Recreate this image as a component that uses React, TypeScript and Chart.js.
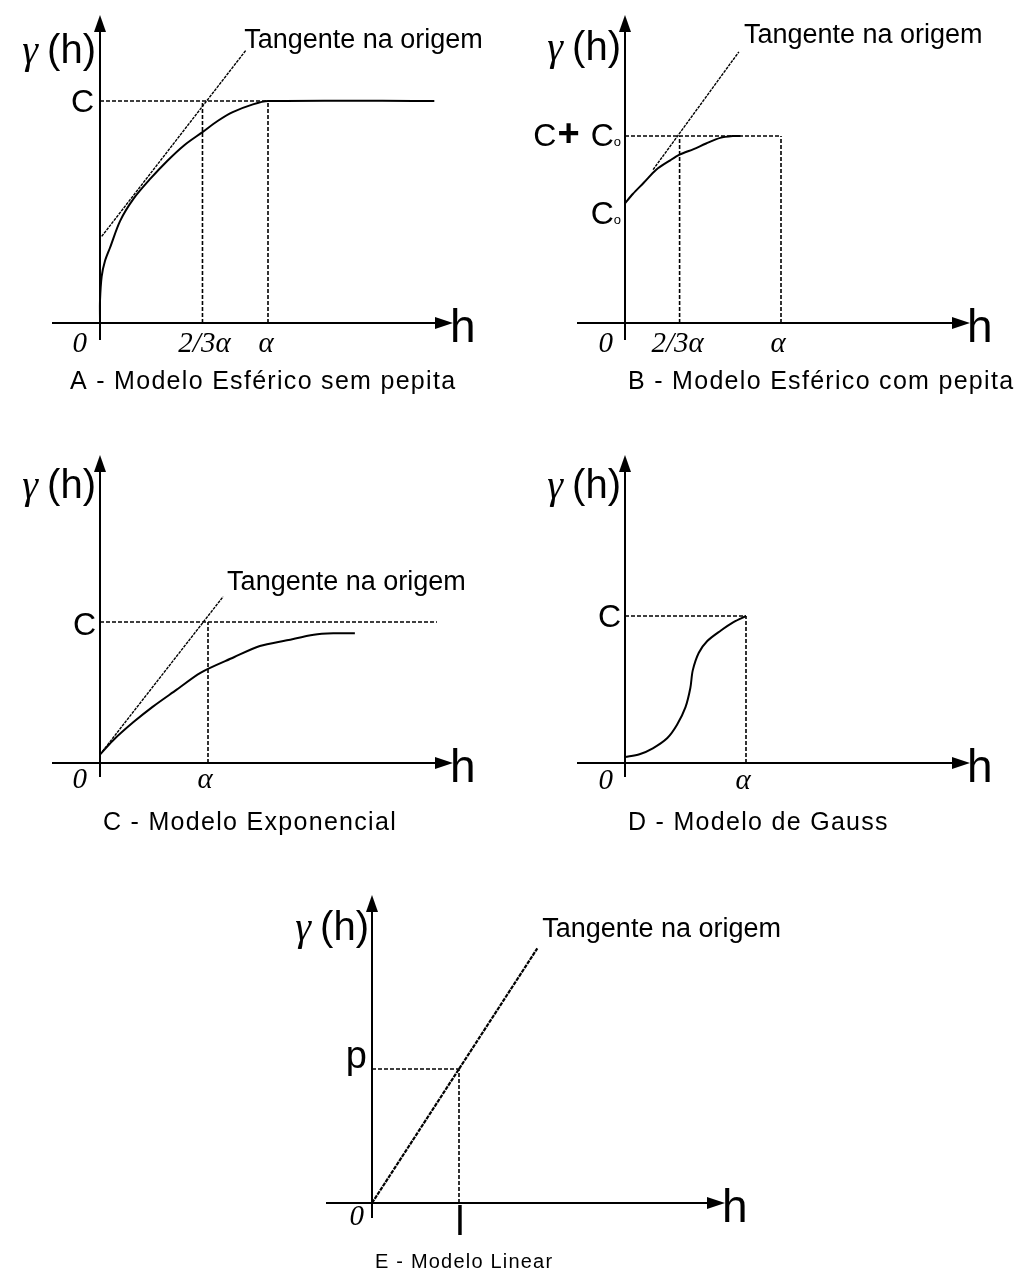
import { useEffect, useRef } from 'react';
import { Chart, registerables } from 'chart.js';

Chart.register(...registerables);

const SANS = '"Liberation Sans", Arial, sans-serif';
const SERIF = '"Liberation Serif", "Times New Roman", serif';
const INK = '#000';

// h is measured in units of the range (α or l), γ(h) in units of the sill (C, C + C0 or p)

// A – spherical model without nugget
const sphericalH = [0, 0, 0.01, 0.03, 0.06, 0.12, 0.2, 0.3, 0.4, 0.5, 0.61, 0.7, 0.79, 0.91, 1, 1.99];
const sphericalGamma = [0.01, 0.1, 0.21, 0.28, 0.34, 0.46, 0.56, 0.65, 0.73, 0.8, 0.86, 0.91, 0.95, 0.985, 1, 1];
const sphericalTangentH = [0.01, 0.87];
const sphericalTangentGamma = [0.39, 1.23];
const sphericalTicks = [0.61, 1];
const sphericalTickLabels = ['2/3α', 'α'];

// B – spherical model with nugget
const nuggetH = [0, 0.05, 0.12, 0.2, 0.29, 0.35, 0.44, 0.52, 0.61, 0.69, 0.74];
const nuggetGamma = [0.64, 0.69, 0.75, 0.82, 0.87, 0.9, 0.93, 0.96, 0.99, 1, 1];
const nuggetTangentH = [0.18, 0.73];
const nuggetTangentGamma = [0.82, 1.45];
const nuggetC0 = 0.64;
const nuggetTicks = [0.35, 1];
const nuggetTickLabels = ['2/3α', 'α'];

// C – exponential model
const expH = [0, 0.12, 0.31, 0.49, 0.71, 0.93, 1.24, 1.48, 1.73, 1.98, 2.16, 2.36];
const expGamma = [0.06, 0.16, 0.29, 0.4, 0.52, 0.64, 0.75, 0.83, 0.87, 0.91, 0.92, 0.92];
const expTangentH = [0, 1.14];
const expTangentGamma = [0.06, 1.18];
const expSillEnd = 3.12;
const expTicks = [1];
const expTickLabels = ['α'];

// D – Gaussian model
const gaussH = [0, 0.12, 0.23, 0.35, 0.43, 0.5, 0.54, 0.56, 0.61, 0.68, 0.79, 0.9, 1];
const gaussGamma = [0.04, 0.06, 0.1, 0.17, 0.26, 0.38, 0.51, 0.63, 0.75, 0.83, 0.9, 0.96, 1];
const gaussTicks = [1];
const gaussTickLabels = ['α'];

// E – linear model
const linearH = [0, 1.9];
const linearGamma = [0, 1.9];
const linearTicks = [1];
const linearTickLabels = ['l'];

const SILL = 1;

type Pt = { x: number; y: number };
const series = (h: number[], g: number[]): Pt[] => h.map((x, i) => ({ x, y: g[i] }));

const base = { showLine: true, borderColor: INK, pointRadius: 0, fill: false };
const curve = (h: number[], g: number[]) => ({ ...base, data: series(h, g), borderWidth: 2, tension: 0.3 });
const tangent = (h: number[], g: number[], width = 1.4, dash = [3, 1]) => ({
  ...base, data: series(h, g), borderWidth: width, borderDash: dash, tension: 0,
});
const guide = (h: number[], g: number[]) => ({
  ...base, data: series(h, g), borderWidth: 1.6, borderDash: [4, 2], tension: 0,
});
// dashed sill line plus a dashed drop line for every marked lag
const guides = (ticks: number[], sillEnd: number) => [
  guide([0, sillEnd], [SILL, SILL]),
  ...ticks.map((t) => guide([t, t], [0, SILL])),
];

type Run = { text: string; font: string; pad?: number };
type Mark = { value: number; runs: Run[]; dx: number; dy: number; align: 'left' | 'right' | 'center' };

interface PanelSpec {
  box: { left: number; top: number; width: number; height: number };
  origin: { x: number; y: number };
  unit: { x: number; y: number };
  axis: { back: number; fwd: number; up: number; down: number };
  datasets: () => any[];
  yMarks: Mark[];
  xMarks: Mark[];
  tangentNote?: { h: number; g: number; dx: number; dy: number };
  caption: { text: string; dx: number; dy: number; font: string; spacing: number };
  title: { dx: number; dy: number };
}

const cFont = `32px ${SANS}`;
const subFont = `13px ${SANS}`;
const tickFont = `italic 29px ${SERIF}`;
const noteFont = `27px ${SANS}`;
const captionFont = `25px ${SANS}`;

const zeroMark = (dx: number, dy: number): Mark => ({
  value: 0, runs: [{ text: '0', font: tickFont }], dx, dy, align: 'right',
});
const tickMarks = (ticks: number[], labels: string[], dxs: number[], dy: number, font = tickFont): Mark[] =>
  ticks.map((t, i) => ({ value: t, runs: [{ text: labels[i], font }], dx: dxs[i], dy, align: 'center' }));

const panels: PanelSpec[] = [
  {
    box: { left: 0, top: 0, width: 509, height: 400 },
    origin: { x: 100, y: 323 },
    unit: { x: 168, y: 222 },
    axis: { back: 48, fwd: 353, up: 308, down: 17 },
    datasets: () => [
      curve(sphericalH, sphericalGamma),
      tangent(sphericalTangentH, sphericalTangentGamma),
      ...guides(sphericalTicks, 1),
    ],
    yMarks: [{ value: SILL, runs: [{ text: 'C', font: cFont }], dx: -6, dy: 11, align: 'right' }],
    xMarks: [zeroMark(-13, 29), ...tickMarks(sphericalTicks, sphericalTickLabels, [2, -2], 29)],
    tangentNote: { h: sphericalTangentH[1], g: sphericalTangentGamma[1], dx: -2, dy: -2 },
    caption: { text: 'A - Modelo Esférico sem pepita', dx: -30, dy: 66, font: captionFont, spacing: 1.3 },
    title: { dx: -4, dy: -260 },
  },
  {
    box: { left: 509, top: 0, width: 509, height: 400 },
    origin: { x: 625, y: 323 },
    unit: { x: 156, y: 187 },
    axis: { back: 48, fwd: 345, up: 308, down: 17 },
    datasets: () => [
      curve(nuggetH, nuggetGamma),
      tangent(nuggetTangentH, nuggetTangentGamma),
      ...guides(nuggetTicks, 1),
    ],
    yMarks: [
      {
        value: SILL,
        runs: [
          { text: 'C', font: cFont, pad: 1 },
          { text: '+', font: `bold 38px ${SANS}`, pad: 11 },
          { text: 'C', font: cFont },
          { text: 'o', font: subFont },
        ],
        dx: -4, dy: 10, align: 'right',
      },
      {
        value: nuggetC0,
        runs: [{ text: 'C', font: cFont }, { text: 'o', font: subFont }],
        dx: -4, dy: 21, align: 'right',
      },
    ],
    xMarks: [zeroMark(-12, 29), ...tickMarks(nuggetTicks, nuggetTickLabels, [-2, -3], 29)],
    tangentNote: { h: nuggetTangentH[1], g: nuggetTangentGamma[1], dx: 5, dy: -9 },
    caption: { text: 'B - Modelo Esférico com pepita', dx: 3, dy: 66, font: captionFont, spacing: 1.3 },
    title: { dx: -4, dy: -263 },
  },
  {
    box: { left: 0, top: 440, width: 509, height: 400 },
    origin: { x: 100, y: 763 },
    unit: { x: 108, y: 141 },
    axis: { back: 48, fwd: 353, up: 308, down: 14 },
    datasets: () => [
      curve(expH, expGamma),
      tangent(expTangentH, expTangentGamma),
      ...guides(expTicks, expSillEnd),
    ],
    yMarks: [{ value: SILL, runs: [{ text: 'C', font: cFont }], dx: -4, dy: 13, align: 'right' }],
    xMarks: [zeroMark(-13, 25), ...tickMarks(expTicks, expTickLabels, [-3], 25)],
    tangentNote: { h: expTangentH[1], g: expTangentGamma[1], dx: 4, dy: -7 },
    caption: { text: 'C - Modelo Exponencial', dx: 3, dy: 67, font: captionFont, spacing: 1.3 },
    title: { dx: -4, dy: -265 },
  },
  {
    box: { left: 509, top: 440, width: 509, height: 400 },
    origin: { x: 625, y: 763 },
    unit: { x: 121, y: 147 },
    axis: { back: 48, fwd: 345, up: 308, down: 14 },
    datasets: () => [curve(gaussH, gaussGamma), ...guides(gaussTicks, 1)],
    yMarks: [{ value: SILL, runs: [{ text: 'C', font: cFont }], dx: -4, dy: 11, align: 'right' }],
    xMarks: [zeroMark(-12, 26), ...tickMarks(gaussTicks, gaussTickLabels, [-3], 26)],
    caption: { text: 'D - Modelo de Gauss', dx: 3, dy: 67, font: captionFont, spacing: 1.3 },
    title: { dx: -4, dy: -265 },
  },
  {
    box: { left: 260, top: 880, width: 540, height: 393 },
    origin: { x: 372, y: 1203 },
    unit: { x: 87, y: 134 },
    axis: { back: 46, fwd: 353, up: 308, down: 15 },
    datasets: () => [tangent(linearH, linearGamma, 2.2, [4, 1]), ...guides(linearTicks, 1)],
    yMarks: [{ value: SILL, runs: [{ text: 'p', font: `38px ${SANS}` }], dx: -5, dy: -1, align: 'right' }],
    xMarks: [zeroMark(-8, 22), ...tickMarks(linearTicks, linearTickLabels, [1], 32, `40px ${SANS}`)],
    tangentNote: { h: linearH[1], g: linearGamma[1], dx: 5, dy: -11 },
    caption: { text: 'E - Modelo Linear', dx: 3, dy: 65, font: `20px ${SANS}`, spacing: 1.2 },
    title: { dx: -3, dy: -263 },
  },
];

function drawRuns(ctx: CanvasRenderingContext2D, runs: Run[], x: number, y: number, align: string) {
  const widths = runs.map((r) => {
    ctx.font = r.font;
    return ctx.measureText(r.text).width + (r.pad ?? 0);
  });
  const total = widths.reduce((a, b) => a + b, 0);
  let cx = align === 'right' ? x - total : align === 'center' ? x - total / 2 : x;
  ctx.textAlign = 'left';
  ctx.textBaseline = 'alphabetic';
  runs.forEach((r, i) => {
    ctx.font = r.font;
    ctx.fillText(r.text, cx, y);
    cx += widths[i];
  });
}

function decor(spec: PanelSpec) {
  return {
    id: 'variogramDecor',
    beforeDatasetsDraw(chart: any) {
      const { ctx } = chart;
      const x0 = chart.scales.x.getPixelForValue(0);
      const y0 = chart.scales.y.getPixelForValue(0);
      const a = spec.axis;
      ctx.save();
      ctx.strokeStyle = INK;
      ctx.fillStyle = INK;
      ctx.lineWidth = 2;
      // horizontal axis with arrow head
      const tipX = x0 + a.fwd;
      ctx.beginPath();
      ctx.moveTo(x0 - a.back, y0);
      ctx.lineTo(tipX - 14, y0);
      ctx.stroke();
      ctx.beginPath();
      ctx.moveTo(tipX, y0);
      ctx.lineTo(tipX - 18, y0 - 6);
      ctx.lineTo(tipX - 18, y0 + 6);
      ctx.closePath();
      ctx.fill();
      // vertical axis with arrow head
      const tipY = y0 - a.up;
      ctx.beginPath();
      ctx.moveTo(x0, y0 + a.down);
      ctx.lineTo(x0, tipY + 12);
      ctx.stroke();
      ctx.beginPath();
      ctx.moveTo(x0, tipY);
      ctx.lineTo(x0 - 6, tipY + 17);
      ctx.lineTo(x0 + 6, tipY + 17);
      ctx.closePath();
      ctx.fill();
      ctx.restore();
    },
    afterDatasetsDraw(chart: any) {
      const { ctx } = chart;
      const X = chart.scales.x;
      const Y = chart.scales.y;
      const x0 = X.getPixelForValue(0);
      const y0 = Y.getPixelForValue(0);
      ctx.save();
      ctx.fillStyle = INK;

      // γ (h) axis title
      drawRuns(
        ctx,
        [
          { text: 'γ', font: `italic 40px ${SERIF}`, pad: 9 },
          { text: '(h)', font: `40px ${SANS}` },
        ],
        x0 + spec.title.dx,
        y0 + spec.title.dy,
        'right',
      );

      // h at the arrow tip
      drawRuns(ctx, [{ text: 'h', font: `46px ${SANS}` }], x0 + spec.axis.fwd - 3, y0 + 19, 'left');

      for (const m of spec.yMarks) {
        drawRuns(ctx, m.runs, x0 + m.dx, Y.getPixelForValue(m.value) + m.dy, m.align);
      }
      for (const m of spec.xMarks) {
        drawRuns(ctx, m.runs, X.getPixelForValue(m.value) + m.dx, y0 + m.dy, m.align);
      }

      if (spec.tangentNote) {
        const t = spec.tangentNote;
        drawRuns(
          ctx,
          [{ text: 'Tangente na origem', font: noteFont }],
          X.getPixelForValue(t.h) + t.dx,
          Y.getPixelForValue(t.g) + t.dy,
          'left',
        );
      }

      const c = spec.caption;
      ctx.letterSpacing = `${c.spacing}px`;
      drawRuns(ctx, [{ text: c.text, font: c.font }], x0 + c.dx, y0 + c.dy, 'left');
      ctx.letterSpacing = '0px';
      ctx.restore();
    },
  };
}

function Panel({ spec }: { spec: PanelSpec }) {
  const ref = useRef<HTMLCanvasElement>(null);
  useEffect(() => {
    const { box, origin, unit } = spec;
    const chart = new Chart(ref.current as HTMLCanvasElement, {
      type: 'scatter',
      data: { datasets: spec.datasets() },
      options: {
        responsive: false,
        animation: false,
        events: [],
        layout: { padding: 0 },
        plugins: { legend: { display: false }, tooltip: { enabled: false } },
        scales: {
          x: {
            type: 'linear',
            display: false,
            min: (box.left - origin.x) / unit.x,
            max: (box.left + box.width - origin.x) / unit.x,
          },
          y: {
            type: 'linear',
            display: false,
            min: (origin.y - (box.top + box.height)) / unit.y,
            max: (origin.y - box.top) / unit.y,
          },
        },
      },
      plugins: [decor(spec) as any],
    } as any);
    return () => chart.destroy();
  }, [spec]);
  const { box } = spec;
  return (
    <canvas
      ref={ref}
      width={box.width}
      height={box.height}
      style={{ position: 'absolute', left: box.left, top: box.top, width: box.width, height: box.height }}
    />
  );
}

export default function App() {
  return (
    <div style={{ position: 'absolute', left: 0, top: 0, width: 1018, height: 1273, background: '#fff' }}>
      {panels.map((p, i) => (
        <Panel key={i} spec={p} />
      ))}
    </div>
  );
}
